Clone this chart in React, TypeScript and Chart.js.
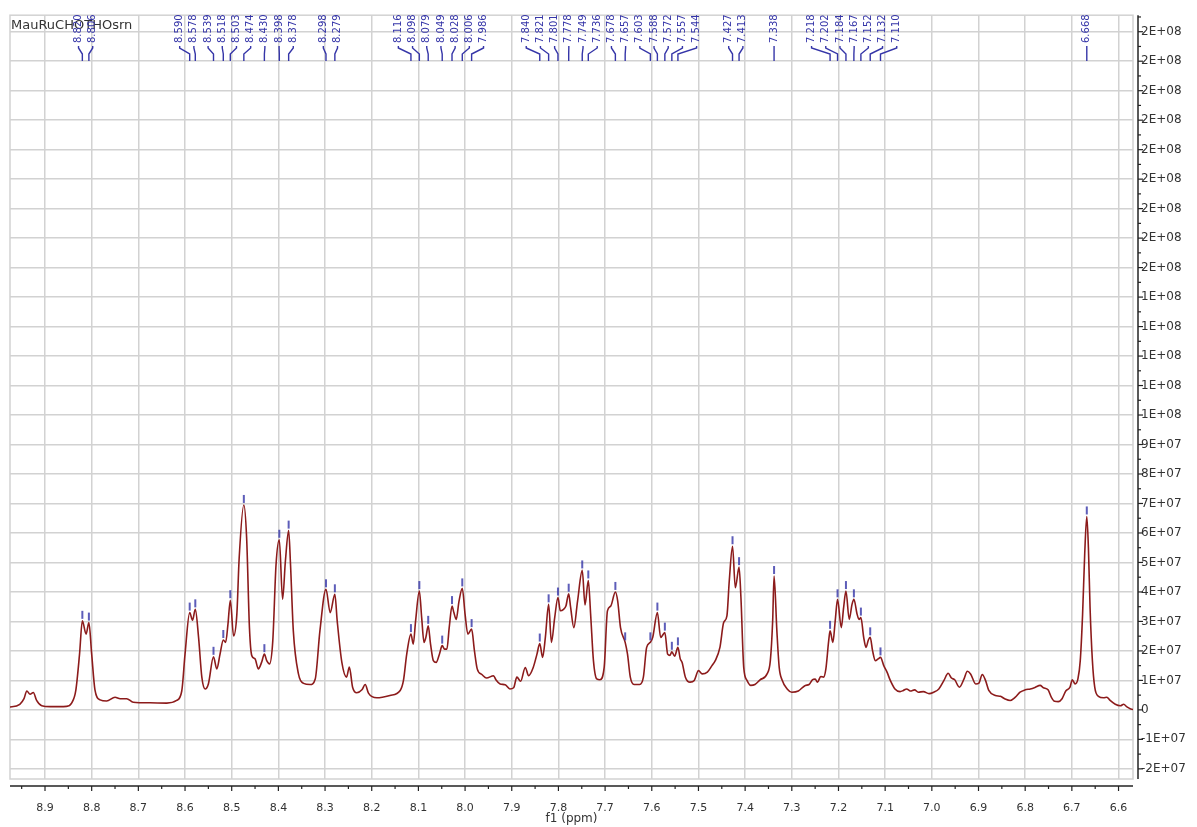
import React, { useEffect, useRef } from 'react';
import { Chart, registerables } from 'chart.js';

Chart.register(...registerables);

// ---------- data ----------
const SAMPLE_NAME = 'MauRuCHOTHOsrn';
const X_TITLE = 'f1 (ppm)';

// chemical shift (ppm), descending
const PPM = [
  8.990, 8.975, 8.954, 8.945, 8.939, 8.932, 8.925, 8.918, 8.907, 8.889,
  8.854, 8.843, 8.834, 8.826, 8.820, 8.812, 8.806, 8.800, 8.793, 8.782,
  8.768, 8.750, 8.739, 8.725, 8.711, 8.675, 8.639, 8.618, 8.607, 8.600,
  8.590, 8.584, 8.578, 8.571, 8.564, 8.557, 8.550, 8.539, 8.532, 8.525,
  8.518, 8.513, 8.508, 8.503, 8.496, 8.489, 8.484, 8.474, 8.468, 8.462,
  8.457, 8.450, 8.443, 8.436, 8.430, 8.425, 8.419, 8.412, 8.405, 8.398,
  8.391, 8.385, 8.378, 8.374, 8.368, 8.357, 8.346, 8.332, 8.321, 8.311,
  8.298, 8.289, 8.279, 8.274, 8.264, 8.254, 8.248, 8.241, 8.232, 8.221,
  8.214, 8.207, 8.189, 8.161, 8.139, 8.132, 8.125, 8.116, 8.111, 8.106,
  8.098, 8.093, 8.088, 8.084, 8.079, 8.074, 8.068, 8.062, 8.055, 8.049,
  8.044, 8.039, 8.034, 8.028, 8.024, 8.019, 8.013, 8.006, 8.000, 7.994,
  7.986, 7.980, 7.974, 7.964, 7.954, 7.939, 7.934, 7.925, 7.914, 7.904,
  7.896, 7.889, 7.881, 7.871, 7.864, 7.854, 7.846, 7.840, 7.834, 7.828,
  7.821, 7.815, 7.808, 7.801, 7.796, 7.789, 7.784, 7.778, 7.774, 7.767,
  7.759, 7.749, 7.743, 7.736, 7.731, 7.725, 7.718, 7.711, 7.702, 7.695,
  7.688, 7.678, 7.673, 7.667, 7.657, 7.652, 7.646, 7.638, 7.626, 7.618,
  7.611, 7.603, 7.598, 7.588, 7.581, 7.572, 7.566, 7.561, 7.557, 7.551,
  7.544, 7.539, 7.535, 7.528, 7.518, 7.509, 7.500, 7.492, 7.481, 7.471,
  7.464, 7.454, 7.446, 7.439, 7.434, 7.427, 7.421, 7.413, 7.409, 7.403,
  7.396, 7.388, 7.379, 7.368, 7.353, 7.346, 7.341, 7.338, 7.332, 7.327,
  7.321, 7.310, 7.300, 7.286, 7.271, 7.263, 7.256, 7.250, 7.245, 7.238,
  7.232, 7.227, 7.221, 7.218, 7.212, 7.207, 7.202, 7.194, 7.189, 7.184,
  7.177, 7.171, 7.167, 7.160, 7.156, 7.152, 7.146, 7.141, 7.136, 7.132,
  7.127, 7.121, 7.115, 7.110, 7.103, 7.096, 7.089, 7.079, 7.068, 7.061,
  7.054, 7.046, 7.037, 7.029, 7.018, 7.006, 6.996, 6.985, 6.974, 6.965,
  6.958, 6.951, 6.941, 6.931, 6.924, 6.917, 6.906, 6.899, 6.892, 6.885,
  6.878, 6.864, 6.853, 6.843, 6.832, 6.821, 6.811, 6.800, 6.789, 6.779,
  6.768, 6.761, 6.751, 6.744, 6.737, 6.729, 6.721, 6.713, 6.704, 6.699,
  6.693, 6.687, 6.682, 6.677, 6.6725, 6.668, 6.6645, 6.661, 6.656, 6.651,
  6.643, 6.632, 6.625, 6.618, 6.607, 6.596, 6.589, 6.582, 6.575, 6.566,
  6.550,
];

// intensity, in units of 1E+07
const INTENSITY_E7 = [
  0.09, 0.10, 0.19, 0.38, 0.64, 0.53, 0.59, 0.32, 0.14, 0.11,
  0.12, 0.23, 0.66, 1.89, 3.02, 2.57, 2.96, 1.89, 0.68, 0.34,
  0.30, 0.43, 0.38, 0.38, 0.26, 0.24, 0.23, 0.32, 0.64, 1.89,
  3.30, 3.04, 3.41, 2.46, 1.11, 0.71, 0.88, 1.80, 1.39, 1.89,
  2.37, 2.29, 2.91, 3.72, 2.51, 3.24, 5.15, 6.95, 5.83, 2.79,
  1.84, 1.73, 1.39, 1.61, 1.89, 1.67, 1.56, 2.34, 4.93, 5.77,
  3.75, 5.04, 6.08, 4.93, 2.68, 1.22, 0.90, 0.86, 1.05, 2.68,
  4.09, 3.30, 3.92, 3.02, 1.61, 1.11, 1.45, 0.77, 0.58, 0.68,
  0.86, 0.57, 0.41, 0.49, 0.66, 1.00, 1.89, 2.57, 2.23, 3.02,
  4.03, 3.13, 2.29, 2.46, 2.85, 2.23, 1.67, 1.61, 1.89, 2.18,
  2.06, 2.06, 2.79, 3.52, 3.30, 3.07, 3.69, 4.12, 3.24, 2.57,
  2.74, 2.01, 1.39, 1.20, 1.08, 1.16, 1.02, 0.88, 0.85, 0.71,
  0.75, 1.11, 0.97, 1.44, 1.16, 1.44, 1.89, 2.25, 1.78, 2.46,
  3.58, 2.29, 3.13, 3.81, 3.36, 3.41, 3.52, 3.94, 3.49, 2.79,
  3.69, 4.73, 3.56, 4.39, 3.24, 1.67, 1.05, 1.02, 1.44, 3.36,
  3.52, 4.00, 3.69, 2.79, 2.29, 1.89, 1.11, 0.86, 0.86, 1.11,
  2.12, 2.29, 2.46, 3.30, 2.46, 2.62, 1.89, 1.85, 1.97, 1.82,
  2.12, 1.73, 1.61, 1.11, 0.94, 1.00, 1.33, 1.22, 1.28, 1.50,
  1.67, 2.12, 2.96, 3.19, 4.37, 5.55, 4.14, 4.84, 3.81, 1.44,
  1.00, 0.83, 0.86, 1.02, 1.22, 1.67, 3.02, 4.54, 2.68, 1.44,
  1.02, 0.71, 0.60, 0.64, 0.83, 0.86, 1.02, 1.05, 0.94, 1.13,
  1.11, 1.39, 2.34, 2.68, 2.29, 3.02, 3.75, 2.79, 3.47, 4.03,
  3.07, 3.58, 3.75, 3.24, 3.07, 3.13, 2.46, 2.12, 2.37, 2.46,
  2.01, 1.67, 1.73, 1.78, 1.50, 1.28, 1.00, 0.71, 0.62, 0.66,
  0.71, 0.64, 0.68, 0.60, 0.62, 0.55, 0.60, 0.71, 1.00, 1.24,
  1.08, 1.02, 0.77, 1.05, 1.31, 1.22, 0.88, 0.91, 1.20, 1.00,
  0.66, 0.49, 0.46, 0.37, 0.32, 0.43, 0.60, 0.68, 0.71, 0.76,
  0.83, 0.75, 0.68, 0.43, 0.29, 0.28, 0.38, 0.64, 0.77, 1.02,
  0.88, 1.05, 1.67, 3.24, 5.27, 6.56, 5.49, 3.47, 1.67, 0.77,
  0.46, 0.41, 0.43, 0.32, 0.19, 0.14, 0.19, 0.10, 0.04, 0.01,
  0.01,
];

// picked peaks (ppm)
const PEAK_LABELS = [
  8.820, 8.806, 8.590, 8.578, 8.539, 8.518, 8.503, 8.474, 8.430, 8.398,
  8.378, 8.298, 8.279, 8.116, 8.098, 8.079, 8.049, 8.028, 8.006, 7.986,
  7.840, 7.821, 7.801, 7.778, 7.749, 7.736, 7.678, 7.657, 7.603, 7.588,
  7.572, 7.557, 7.544, 7.427, 7.413, 7.338, 7.218, 7.202, 7.184, 7.167,
  7.152, 7.132, 7.110, 6.668,
];

// axis ranges (y in units of 1E+07)
const X_MIN = 6.569;
const X_MAX = 8.975;
const X_STEP = 0.1;
const Y_MIN = -2.344;
const Y_MAX = 23.56;
const Y_STEP = 1;
const UNIT = 1e7;

// ---------- styles ----------
const GRID = '#d2d2d2';
const LINE = '#8c1b1b';
const AXIS = '#222222';
const TEXT = '#333333';
const PEAK_BLUE = '#3535a8';
const FONT = 'DejaVu Sans';

function fmtE(v: number): string {
  if (Math.abs(v) < 1) return '0';
  let e = Math.floor(Math.log10(Math.abs(v)));
  let m = Math.round(v / Math.pow(10, e));
  if (Math.abs(m) >= 10) { m = m / 10; e += 1; }
  return `${m}E+${String(e).padStart(2, '0')}`;
}

function spreadLabels(px: number[], gap: number): number[] {
  // px sorted ascending; merge overlapping groups, centred on their peaks
  let groups = px.map((p, i) => ({ s: i, e: i, c: p }));
  let changed = true;
  while (changed) {
    changed = false;
    for (let g = 0; g < groups.length - 1; g++) {
      const a = groups[g];
      const b = groups[g + 1];
      const aR = a.c + ((a.e - a.s) * gap) / 2;
      const bL = b.c - ((b.e - b.s) * gap) / 2;
      if (bL - aR < gap) {
        const mem = px.slice(a.s, b.e + 1);
        const c = mem.reduce((s, v) => s + v, 0) / mem.length;
        groups.splice(g, 2, { s: a.s, e: b.e, c });
        changed = true;
        break;
      }
    }
  }
  const out: number[] = new Array(px.length);
  groups.forEach((g) => {
    const n = g.e - g.s;
    for (let i = g.s; i <= g.e; i++) out[i] = g.c + (i - g.s - n / 2) * gap;
  });
  return out;
}

const nmrPlugin = {
  id: 'nmrOverlay',
  beforeDatasetsDraw(chart: any) {
    const { ctx, chartArea: a } = chart;
    ctx.save();
    ctx.strokeStyle = GRID;
    ctx.lineWidth = 1.5;
    ctx.strokeRect(a.left, a.top, a.right - a.left, a.bottom - a.top);
    ctx.restore();
  },
  afterDraw(chart: any) {
    const { ctx, chartArea: a, scales } = chart;
    const xs = scales.x;
    const ys = scales.y;
    const line = (x1: number, y1: number, x2: number, y2: number) => {
      ctx.beginPath();
      ctx.moveTo(x1, y1);
      ctx.lineTo(x2, y2);
      ctx.stroke();
    };
    ctx.save();
    // axis lines
    const axX = a.right + 5;
    const axY = a.bottom + 7;
    ctx.strokeStyle = AXIS;
    ctx.lineWidth = 1.5;
    line(axX, a.top, axX, a.bottom);
    line(a.left, axY, a.right, axY);
    ctx.lineWidth = 1.2;
    // y ticks (major + minor)
    const yHalf = Y_STEP / 2;
    for (let k = Math.ceil(ys.min / yHalf); k <= Math.floor(ys.max / yHalf); k++) {
      const p = ys.getPixelForValue(k * yHalf);
      line(axX, p, axX + (k % 2 === 0 ? 5 : 3), p);
    }
    // x ticks (major + minor)
    const xHalf = X_STEP / 2;
    for (let k = Math.ceil(xs.min / xHalf - 1e-6); k <= Math.floor(xs.max / xHalf + 1e-6); k++) {
      const p = xs.getPixelForValue(k * xHalf);
      line(p, axY, p, axY + (k % 2 === 0 ? 5 : 3));
    }

    // sample name
    ctx.fillStyle = TEXT;
    ctx.font = `13px "${FONT}"`;
    ctx.textAlign = 'left';
    ctx.textBaseline = 'alphabetic';
    ctx.fillText(SAMPLE_NAME, a.left + 1, a.top + 14);

    // peak labels
    const peakPx = PEAK_LABELS.map((p) => xs.getPixelForValue(p));
    const labPx = spreadLabels(peakPx, 14.2);
    ctx.font = `10px "${FONT}"`;
    ctx.fillStyle = PEAK_BLUE;
    ctx.strokeStyle = PEAK_BLUE;
    ctx.lineWidth = 1.4;
    PEAK_LABELS.forEach((p, i) => {
      const lx = labPx[i];
      const px = peakPx[i];
      ctx.save();
      ctx.translate(lx, 43);
      ctx.rotate(-Math.PI / 2);
      ctx.textAlign = 'left';
      ctx.textBaseline = 'middle';
      ctx.fillText(p.toFixed(3), 0, 0);
      ctx.restore();
      ctx.beginPath();
      ctx.moveTo(lx, 46);
      ctx.lineTo(lx, 48);
      ctx.lineTo(px, 54);
      ctx.lineTo(px, 61);
      ctx.stroke();
      // marker above the peak top
      let best = 0;
      PPM.forEach((q, j) => { if (Math.abs(q - p) < Math.abs(PPM[best] - p)) best = j; });
      const yp = ys.getPixelForValue(INTENSITY_E7[best]);
      ctx.globalAlpha = 0.8;
      ctx.fillRect(px - 1, yp - 10, 2, 8);
      ctx.globalAlpha = 1;
    });
    ctx.restore();
  },
};

export default function App() {
  const ref = useRef<HTMLCanvasElement | null>(null);
  useEffect(() => {
    if (!ref.current) return;
    Chart.defaults.font.family = FONT;
    const chart = new Chart(ref.current, {
      type: 'line',
      data: {
        datasets: [
          {
            data: PPM.map((p, i) => ({ x: p, y: INTENSITY_E7[i] })),
            borderColor: LINE,
            borderWidth: 1.6,
            pointRadius: 0,
            cubicInterpolationMode: 'monotone',
            fill: false,
          },
        ],
      },
      options: {
        responsive: false,
        animation: false,
        devicePixelRatio: 1,
        layout: { padding: { left: 10, top: 11, right: 0, bottom: 0 } },
        plugins: {
          legend: { display: false },
          tooltip: { enabled: false },
        },
        scales: {
          x: {
            type: 'linear',
            reverse: true,
            min: X_MIN,
            max: X_MAX,
            position: 'bottom',
            afterFit: (s: any) => { s.height = 48; },
            grid: { color: GRID, lineWidth: 1.5, drawTicks: false },
            border: { display: false },
            ticks: {
              stepSize: X_STEP,
              includeBounds: false,
              autoSkip: false,
              maxRotation: 0,
              padding: 23,
              color: TEXT,
              font: { size: 11 },
              callback: (v: any) => Number(v).toFixed(1),
            },
            title: {
              display: true,
              text: X_TITLE,
              color: TEXT,
              font: { size: 12 },
              padding: { top: 0, bottom: 1 },
            },
          },
          y: {
            type: 'linear',
            position: 'right',
            min: Y_MIN,
            max: Y_MAX,
            afterFit: (s: any) => { s.width = 64; },
            grid: { color: GRID, lineWidth: 1.5, drawTicks: false },
            border: { display: false },
            ticks: {
              stepSize: Y_STEP,
              includeBounds: false,
              autoSkip: false,
              padding: 8,
              color: TEXT,
              font: { size: 12 },
              callback: (v: any) => fmtE(Number(v) * UNIT),
            },
          },
        },
      },
      plugins: [nmrPlugin],
    } as any);
    return () => chart.destroy();
  }, []);
  return (
    <div style={{ position: 'fixed', left: 0, top: 0, width: 1197, height: 827, background: '#fff' }}>
      <canvas ref={ref} width={1197} height={827} />
    </div>
  );
}
